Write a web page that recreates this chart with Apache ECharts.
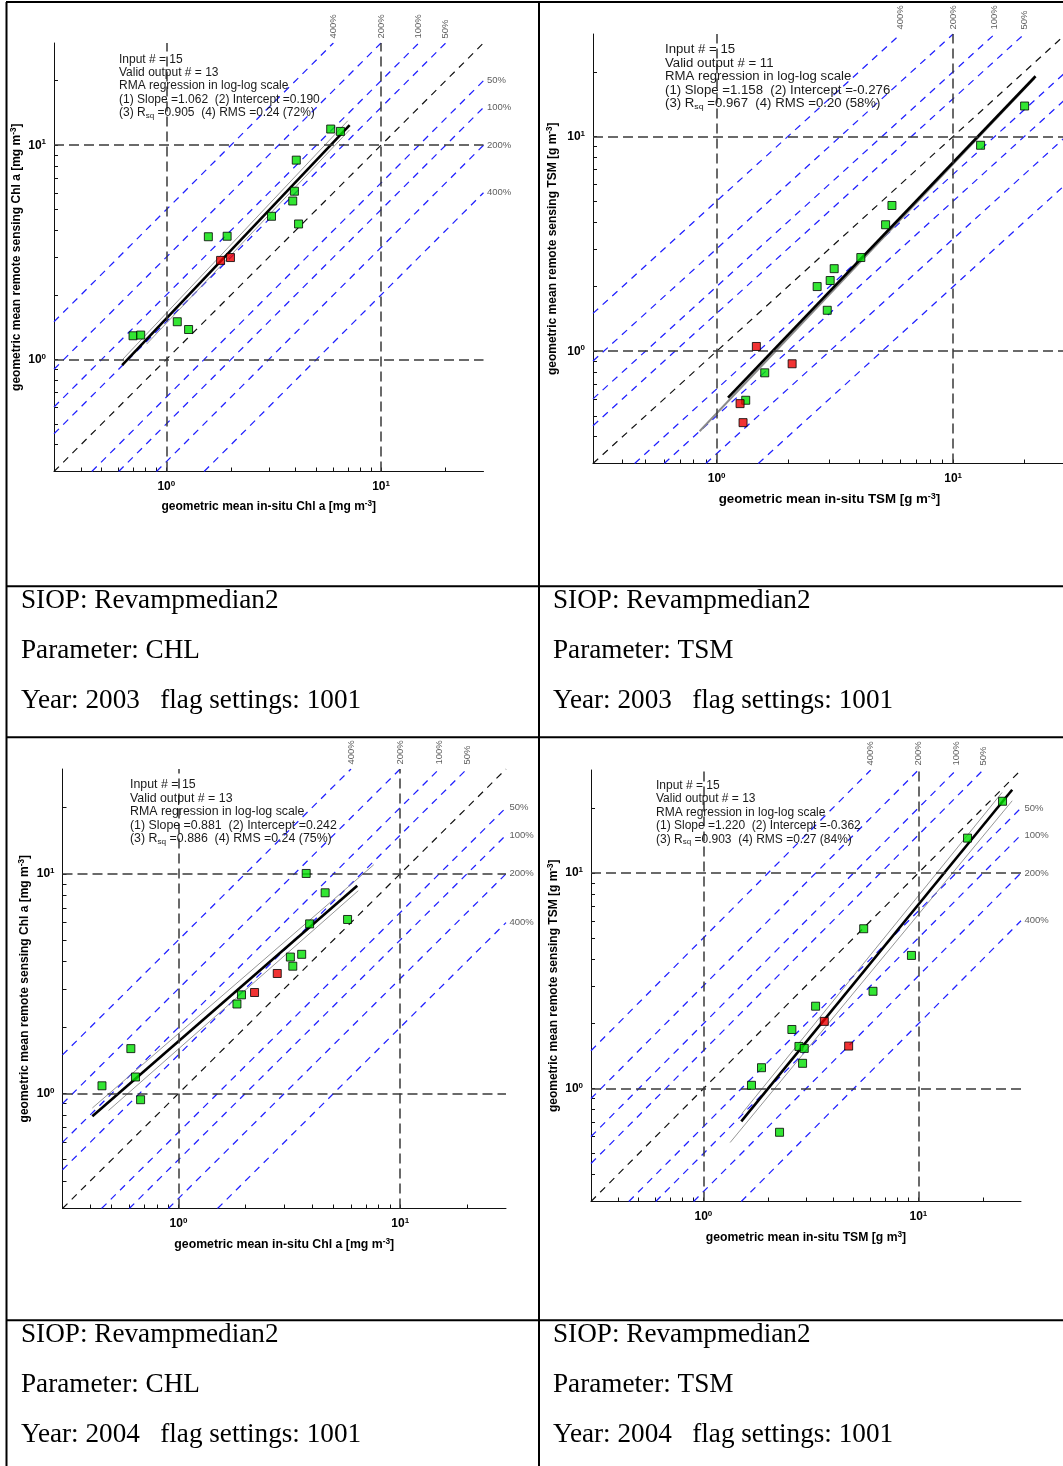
<!DOCTYPE html>
<html><head><meta charset="utf-8">
<script src="https://cdn.jsdelivr.net/npm/echarts@6/dist/echarts.min.js"></script>
<style>html,body{margin:0;padding:0;background:#fff;overflow:hidden}#c{width:1063px;height:1466px}</style>
</head><body><div id="c"></div><script>
// ---------------- data ----------------
const axisMin = 0.3, axisMax = 30;
const tickValues = [0.4,0.5,0.6,0.7,0.8,0.9,1,2,3,4,5,6,7,8,9,10,20];
const labelValues = [1, 10];
const ratioFactors = [1.5, 2, 3, 5];
const ratioLabels = ['50%', '100%', '200%', '400%'];

// panel 1: CHL 2003
const chl2003Valid = [[0.70,1.29],[0.76,1.30],[1.125,1.50],[1.27,1.38],[1.57,3.74],[1.92,3.76],[3.09,4.66],[3.88,5.49],[3.95,6.10],[4.03,8.52],[4.13,4.29],[5.83,11.9],[6.47,11.6]];
const chl2003Flagged = [[1.79,2.90],[1.99,2.99]];
const chl2003Rma = [[0.623,0.94],[7.14,12.4]];
const chl2003Aux = [[[0.626,1.0],[7.0,13.0]], [[0.81,1.18],[7.14,11.8]]];
const chl2003Stats = ['Input # = 15','Valid output # = 13','RMA regression in log-log scale','(1) Slope =1.062  (2) Intercept =0.190','(3) R{sub|sq} =0.905  (4) RMS =0.24 (72%)'];

// panel 2: TSM 2003
const tsm2003Valid = [[1.327,0.591],[1.597,0.793],[2.66,2.00],[2.935,1.551],[3.02,2.134],[3.14,2.423],[4.07,2.73],[5.18,3.88],[5.51,4.77],[13.06,9.10],[20.05,13.86]];
const tsm2003Flagged = [[1.256,0.570],[1.293,0.465],[1.472,1.052],[2.085,0.874]];
const tsm2003Rma = [[1.117,0.608],[22.3,19.07]];
const tsm2003Aux = [[[0.847,0.424],[22.0,18.6]]];
const tsm2003Stats = ['Input # = 15','Valid output # = 11','RMA regression in log-log scale','(1) Slope =1.158  (2) Intercept =-0.276','(3) R{sub|sq} =0.967  (4) RMS =0.20 (58%)'];

// panel 3: CHL 2004
const chl2004Valid = [[0.452,1.085],[0.610,1.602],[0.640,1.19],[0.675,0.938],[1.836,2.557],[1.924,2.814],[3.197,4.182],[3.278,3.80],[3.596,4.303],[3.768,10.04],[3.905,5.92],[4.587,8.20],[5.79,6.20]];
const chl2004Flagged = [[2.204,2.884],[2.79,3.52]];
const chl2004Rma = [[0.409,0.789],[6.40,8.83]];
const chl2004Aux = [[[0.409,0.86],[7.6,11.0]], [[0.484,0.838],[6.47,8.38]]];
const chl2004Stats = ['Input # = 15','Valid output # = 13','RMA regression in log-log scale','(1) Slope =0.881  (2) Intercept =0.242','(3) R{sub|sq} =0.886  (4) RMS =0.24 (75%)'];

// panel 4: TSM 2004
const tsm2004Valid = [[1.673,1.037],[1.863,1.251],[2.26,0.628],[2.579,1.881],[2.781,1.570],[2.944,1.537],[2.892,1.311],[3.325,2.412],[5.565,5.513],[6.149,2.828],[9.28,4.146],[16.92,14.50],[24.62,21.49]];
const tsm2004Flagged = [[3.649,2.051],[4.737,1.576]];
const tsm2004Rma = [[1.50,0.705],[27.3,24.3]];
const tsm2004Aux = [[[1.331,0.563],[27.3,21.6]], [[1.509,0.766],[24.5,23.6]]];
const tsm2004Stats = ['Input # = 15','Valid output # = 13','RMA regression in log-log scale','(1) Slope =1.220  (2) Intercept =-0.362','(3) R{sub|sq} =0.903  (4) RMS =0.27 (84%)'];

const xNames = ['geometric mean in-situ Chl a [mg m{sup|-3}]','geometric mean in-situ TSM [g m{sup|-3}]','geometric mean in-situ Chl a [mg m{sup|-3}]','geometric mean in-situ TSM [g m{sup|3}]'];
const yNames = ['geometric mean remote sensing Chl a [mg m{sup|-3}]','geometric mean remote sensing TSM [g m{sup|-3}]','geometric mean remote sensing Chl a [mg m{sup|-3}]','geometric mean remote sensing TSM [g m{sup|-3}]'];

const captionsLeft2003 = ['SIOP: Revampmedian2','Parameter: CHL','Year: 2003   flag settings: 1001'];
const captionsRight2003 = ['SIOP: Revampmedian2','Parameter: TSM','Year: 2003   flag settings: 1001'];
const captionsLeft2004 = ['SIOP: Revampmedian2','Parameter: CHL','Year: 2004   flag settings: 1001'];
const captionsRight2004 = ['SIOP: Revampmedian2','Parameter: TSM','Year: 2004   flag settings: 1001'];

// ---------------- layout / style ----------------
const SANS = 'Liberation Sans, Arial, sans-serif';
const SERIF = 'Liberation Serif, Times New Roman, serif';
const BLUE = '#2020ff';
const panels = [
  {grid:{left:54, top:43, width:429.5, height:428.5}, valid:chl2003Valid, flagged:chl2003Flagged, rma:chl2003Rma, aux:chl2003Aux, stats:chl2003Stats, statsXY:[119,52.5], statsScale:1, xGap:28, yGap:30, xFont:12, yFont:12},
  {grid:{left:593, top:34, width:473, height:429.5}, valid:tsm2003Valid, flagged:tsm2003Flagged, rma:tsm2003Rma, aux:tsm2003Aux, stats:tsm2003Stats, statsXY:[665,43.3], statsScale:1.1, xGap:29, yGap:33, xFont:13.3, yFont:12},
  {grid:{left:62.5, top:769, width:443.5, height:439.5}, valid:chl2004Valid, flagged:chl2004Flagged, rma:chl2004Rma, aux:chl2004Aux, stats:chl2004Stats, statsXY:[130,778.3], statsScale:1.03, xGap:29.5, yGap:30.5, xFont:12.3, yFont:12},
  {grid:{left:591, top:770, width:430, height:431.5}, valid:tsm2004Valid, flagged:tsm2004Flagged, rma:tsm2004Rma, aux:tsm2004Aux, stats:tsm2004Stats, statsXY:[656,779], statsScale:1, xGap:29, yGap:30.5, xFont:12.2, yFont:12}
];

function tickRich() {
  return {
    b:{fontSize:12, fontWeight:'bold', fontFamily:SANS, color:'#000', lineHeight:14},
    s:{fontSize:8, fontWeight:'bold', fontFamily:SANS, color:'#000', lineHeight:8, verticalAlign:'top'}
  };
}
function makeAxis(i, isX) {
  const P = panels[i];
  const fs = isX ? P.xFont : P.yFont;
  return {
    type:'log', logBase:10, min:axisMin, max:axisMax, gridIndex:i,
    name: isX ? xNames[i] : yNames[i], nameLocation:'middle', nameGap: isX ? P.xGap : P.yGap,
    nameTextStyle:{fontSize:fs, fontWeight:'bold', fontFamily:SANS, color:'#000', lineHeight:14,
      rich:{sup:{fontSize:fs*0.68, fontWeight:'bold', fontFamily:SANS, color:'#000', lineHeight:8, verticalAlign:'top'}}},
    axisLine:{show:true, lineStyle:{color:'#111', width:1}},
    axisTick:{show:true, inside:true, length:4, customValues:tickValues, lineStyle:{color:'#111', width:1}},
    minorTick:{show:false},
    axisLabel:{show:true, customValues:labelValues, margin:8,
      formatter: v => '{b|10}{s|' + Math.round(Math.log10(v)) + '}', rich:tickRich()},
    splitLine:{show:false}
  };
}

const series = [];
const graphic = [];
panels.forEach((P, i) => {
  const ax = {xAxisIndex:i, yAxisIndex:i, animation:false, silent:true};
  const blueStyle = {color:BLUE, width:1.25, type:[7,6]};
  ratioFactors.forEach(f => {
    series.push(Object.assign({type:'line', symbol:'none', z:1, lineStyle:blueStyle,
      data:[[axisMin, axisMin*f],[axisMax/f, axisMax]]}, ax));
    series.push(Object.assign({type:'line', symbol:'none', z:1, lineStyle:blueStyle,
      data:[[axisMin*f, axisMin],[axisMax, axisMax/f]]}, ax));
  });
  series.push(Object.assign({type:'line', symbol:'none', z:2, lineStyle:{color:'#111', width:1.2, type:[7,6]},
    data:[[axisMin, axisMin],[axisMax, axisMax]],
    markLine:{silent:true, symbol:['none','none'], label:{show:false}, animation:false,
      lineStyle:{color:'#3a3a3a', width:1.5, type:[10,5]},
      data:[{xAxis:1},{xAxis:10},{yAxis:1},{yAxis:10}]}}, ax));
  P.aux.forEach(seg => {
    series.push(Object.assign({type:'line', symbol:'none', z:3, lineStyle:{color:'#8a8a8a', width:i===1?2:0.9}, data:seg}, ax));
  });
  series.push(Object.assign({type:'line', symbol:'none', z:4, lineStyle:{color:'#000', width:2.6}, data:P.rma}, ax));
  series.push(Object.assign({type:'scatter', symbol:'rect', symbolSize:8, z:5,
    itemStyle:{color:'#00e000', borderColor:'#000', borderWidth:1}, data:P.valid}, ax));
  series.push(Object.assign({type:'scatter', symbol:'rect', symbolSize:8, z:5,
    itemStyle:{color:'#ee0000', borderColor:'#000', borderWidth:1}, data:P.flagged}, ax));
  // percentage labels
  series.push(Object.assign({type:'scatter', symbol:'circle', symbolSize:1, clip:false, z:6,
    itemStyle:{color:'rgba(0,0,0,0)'},
    label:{show:true, position:'top', rotate:90, align:'left', verticalAlign:'middle', distance:4,
      fontSize:9.5, fontFamily:SANS, color:'#333', formatter: p => p.name},
    data: ratioFactors.map((f,k) => ({name:ratioLabels[k], value:[axisMax/f, axisMax]}))}, ax));
  series.push(Object.assign({type:'scatter', symbol:'circle', symbolSize:1, clip:false, z:6,
    itemStyle:{color:'rgba(0,0,0,0)'},
    label:{show:true, position:'right', distance:3,
      fontSize:9.5, fontFamily:SANS, color:'#333', formatter: p => p.name},
    data: ratioFactors.map((f,k) => ({name:ratioLabels[k], value:[axisMax, axisMax/f]}))}, ax));
  // statistics text
  graphic.push({type:'text', x:P.statsXY[0], y:P.statsXY[1], scaleX:P.statsScale, z:50, silent:true,
    style:{text:P.stats.join('\n'), fontSize:12, fontFamily:SANS, fill:'#1a1a1a', lineHeight:13.4,
      verticalAlign:'top', textVerticalAlign:'top', align:'left',
      rich:{sub:{fontSize:8, fontFamily:SANS, fill:'#1a1a1a', lineHeight:5, verticalAlign:'bottom'}}}});
});

// table borders
const B = {stroke:'#000', lineWidth:2};
[[6,2,1063,2],[6.5,2,6.5,1466],[539,2,539,1466],[6,586.3,1063,586.3],[6,737.3,1063,737.3],[6,1320.3,1063,1320.3]]
  .forEach(l => graphic.push({type:'line', silent:true, z:60, shape:{x1:l[0],y1:l[1],x2:l[2],y2:l[3]}, style:B}));
// captions
function caption(lines, x, y0) {
  lines.forEach((t, k) => graphic.push({type:'text', x:x, y:y0 + 50*k, z:60, silent:true,
    style:{text:t, fontSize:27.2, fontFamily:SERIF, fill:'#000', verticalAlign:'middle', textVerticalAlign:'middle', align:'left'}}));
}
caption(captionsLeft2003, 21, 601);
caption(captionsRight2003, 553, 601);
caption(captionsLeft2004, 21, 1335);
caption(captionsRight2004, 553, 1335);

const chart = echarts.init(document.getElementById('c'), null, {renderer:'canvas'});
chart.setOption({
  backgroundColor:'#fff',
  animation:false,
  grid: panels.map(P => Object.assign({containLabel:false, outerBoundsMode:'none'}, P.grid)),
  xAxis: panels.map((P,i) => makeAxis(i, true)),
  yAxis: panels.map((P,i) => makeAxis(i, false)),
  series: series,
  graphic: graphic
});
</script></body></html>
